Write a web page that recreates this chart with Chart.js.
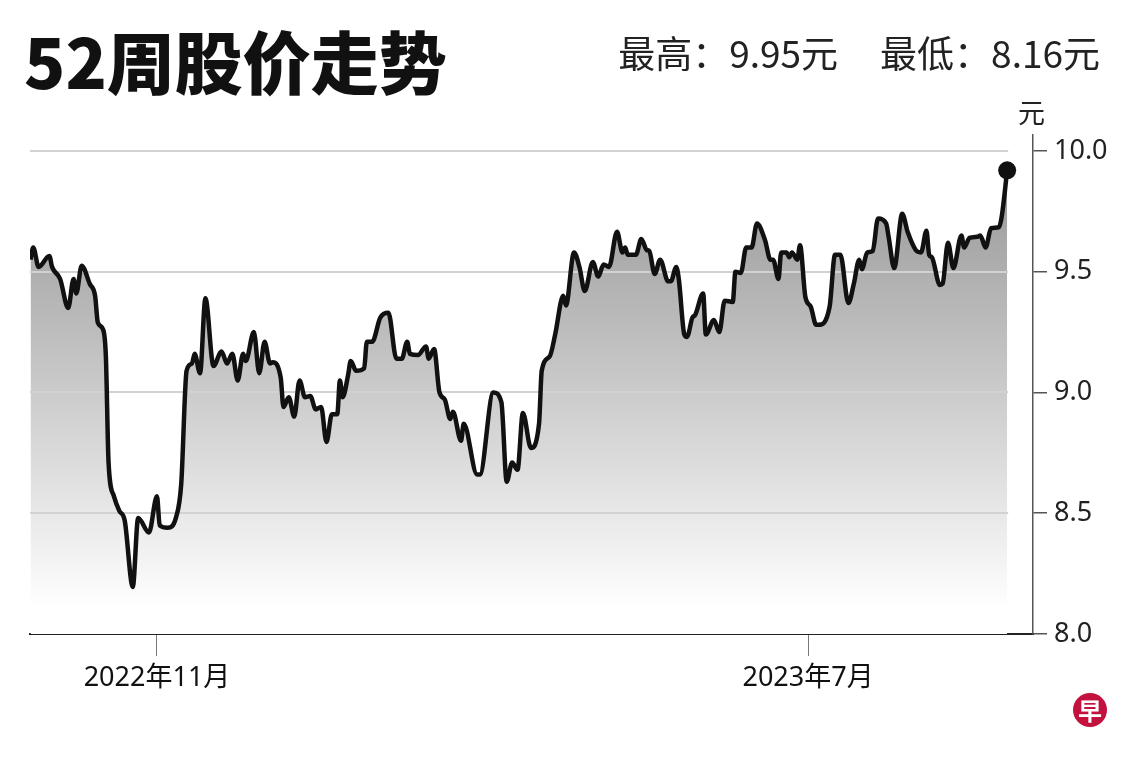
<!DOCTYPE html>
<html>
<head>
<meta charset="utf-8">
<script src="https://cdn.jsdelivr.net/npm/chart.js@4"></script>
<style>
  body { margin: 0; background: #fff; }
  #wrap { position: relative; width: 1140px; height: 760px; overflow: hidden; }
  #chart { position: absolute; left: 0; top: 0; }
  .title {
    position: absolute; left: 24px; top: 10px; line-height: 70px;
    font: 900 68px 'Noto Sans CJK SC', sans-serif; color: #111;
  }
  .hilo {
    position: absolute; right: 40px; top: 25px; line-height: 38px;
    font: 400 37px 'Noto Sans CJK SC', sans-serif; color: #222; white-space: nowrap;
  }
  .hilo span + span { margin-left: 42px; }
  .unit {
    position: absolute; left: 1018px; top: 92px; line-height: 28px;
    font: 400 27px 'Noto Sans CJK SC', sans-serif; color: #222;
  }
  .logo {
    position: absolute; left: 1073px; top: 693px; width: 34px; height: 34px;
    border-radius: 50%; background: #c4123f; color: #fff; text-align: center;
    font: 700 24px/34px 'Noto Sans CJK SC', sans-serif;
  }
</style>
</head>
<body>
<div id="wrap">
  <canvas id="chart" width="1140" height="760"></canvas>
  <div class="title">52周股价走势</div>
  <div class="hilo"><span>最高：9.95元</span><span>最低：8.16元</span></div>
  <div class="unit">元</div>
  <div class="logo">早</div>
</div>
<script>
// days counted from 2022-09-15
const tradeDays = [
  0, 1, 3, 7, 8, 11, 14, 16, 17, 19, 22, 24, 25, 27, 28, 29, 31, 33, 35, 38,
  40, 44, 47, 48, 51, 54, 56, 58, 60, 61, 63, 65, 68, 71, 73, 75, 77, 79, 80, 83,
  85, 87, 89, 90, 93, 94, 96, 98, 100, 102, 104, 106, 108, 110, 112, 114, 115, 116, 118, 119,
  121, 124, 125, 127, 130, 133, 136, 138, 140, 141, 144, 147, 148, 150, 152, 154, 156, 157, 160, 161,
  166, 167, 172, 175, 177, 179, 181, 183, 186, 189, 190, 193, 195, 198, 199, 202, 204, 206, 209, 211,
  213, 215, 218, 220, 221, 222, 225, 227, 229, 230, 232, 234, 237, 238, 240, 241, 243, 244, 246, 247,
  250, 251, 254, 256, 258, 261, 262, 264, 266, 268, 270, 273, 275, 276, 278, 279, 281, 282, 283, 285,
  286, 288, 290, 292, 293, 297, 299, 301, 304, 306, 308, 309, 311, 313, 315, 318, 319, 321, 324, 326,
  329, 331, 333, 334, 335, 338, 339, 341, 343, 346, 347, 349, 352, 353, 355, 357, 360, 361, 363
];
const prices = [
  9.55, 9.60, 9.52, 9.565, 9.52, 9.47, 9.35, 9.47, 9.41, 9.525, 9.45, 9.40, 9.29, 9.26, 9.15, 8.71, 8.57, 8.51, 8.47, 8.195,
  8.48, 8.42, 8.57, 8.45, 8.44, 8.48, 8.62, 9.09, 9.12, 9.16, 9.08, 9.39, 9.11, 9.17, 9.12, 9.16, 9.05, 9.16, 9.13, 9.25,
  9.08, 9.21, 9.12, 9.125, 9.06, 8.94, 8.98, 8.90, 9.05, 8.98, 8.985, 8.93, 8.94, 8.795, 8.91, 8.91, 9.05, 8.98, 9.07, 9.13,
  9.09, 9.10, 9.21, 9.21, 9.31, 9.33, 9.14, 9.14, 9.21, 9.16, 9.155, 9.19, 9.14, 9.18, 9.00, 8.97, 8.89, 8.92, 8.80, 8.87,
  8.66, 8.66, 9.00, 8.96, 8.63, 8.71, 8.68, 8.915, 8.77, 8.87, 9.09, 9.15, 9.24, 9.40, 9.36, 9.58, 9.52, 9.42, 9.54, 9.48,
  9.53, 9.52, 9.665, 9.58, 9.60, 9.57, 9.57, 9.635, 9.59, 9.585, 9.49, 9.55, 9.46, 9.46, 9.52, 9.465, 9.24, 9.23, 9.31, 9.32,
  9.41, 9.24, 9.30, 9.25, 9.38, 9.375, 9.50, 9.495, 9.60, 9.60, 9.70, 9.63, 9.55, 9.55, 9.47, 9.58, 9.58, 9.56, 9.58, 9.55,
  9.61, 9.395, 9.355, 9.28, 9.28, 9.355, 9.57, 9.57, 9.37, 9.45, 9.55, 9.51, 9.58, 9.585, 9.72, 9.70, 9.64, 9.515, 9.74, 9.665,
  9.59, 9.58, 9.67, 9.57, 9.56, 9.445, 9.45, 9.62, 9.515, 9.65, 9.60, 9.64, 9.645, 9.65, 9.60, 9.68, 9.685, 9.73, 9.92
];
const xTickDays = [47, 289];
const xTickLabels = ['2022年11月', '2023年7月'];
const yTicks = [8.0, 8.5, 9.0, 9.5, 10.0];

const points = tradeDays.map((d, i) => ({ x: d, y: prices[i] }));
const lastIdx = points.length - 1;

// horizontal grid lines, drawn over the grey area but under the black line
const gridPlugin = {
  id: 'gridUnderLine',
  afterDatasetDraw(chart, args) {
    if (chart.data.datasets[args.index].id !== 'area') return;
    const ctx = chart.ctx;
    const xs = chart.scales.x, ys = chart.scales.y;
    const endX = xs.getPixelForValue(tradeDays[lastIdx]) + 1;
    ctx.save();
    ctx.strokeStyle = '#d2d2d2';
    ctx.lineWidth = 2;
    yTicks.forEach(v => {
      if (v === yTicks[0]) return;
      const y = Math.round(ys.getPixelForValue(v));
      ctx.beginPath();
      ctx.moveTo(chart.chartArea.left, y);
      ctx.lineTo(endX, y);
      ctx.stroke();
    });
    ctx.restore();
  }
};

function areaFill(context) {
  const chart = context.chart;
  const area = chart.chartArea;
  if (!area) return '#ccc';
  const ys = chart.scales.y;
  const g = chart.ctx.createLinearGradient(0, ys.getPixelForValue(10.0), 0, ys.getPixelForValue(8.1));
  g.addColorStop(0, '#939393');
  g.addColorStop(0.45, '#c3c3c3');
  g.addColorStop(1, '#ffffff');
  return g;
}

new Chart(document.getElementById('chart'), {
  type: 'line',
  data: {
    datasets: [
      {
        data: points,
        borderColor: '#111',
        borderWidth: 4.5,
        fill: false,
        cubicInterpolationMode: 'monotone',
        pointRadius: c => (c.dataIndex === lastIdx ? 9 : 0),
        pointBackgroundColor: '#111',
        pointBorderWidth: 0,
        order: 1
      },
      {
        id: 'area',
        data: points,
        borderWidth: 0,
        borderColor: 'rgba(0,0,0,0)',
        backgroundColor: areaFill,
        fill: 'start',
        cubicInterpolationMode: 'monotone',
        pointRadius: 0,
        order: 2
      }
    ]
  },
  options: {
    responsive: false,
    animation: false,
    layout: { padding: { left: 30, right: 0, top: 135, bottom: 0 } },
    plugins: { legend: { display: false }, tooltip: { enabled: false } },
    scales: {
      x: {
        type: 'linear',
        min: -0.2,
        max: 372.6,
        afterBuildTicks: s => { s.ticks = xTickDays.map(v => ({ value: v })); },
        afterFit: s => { s.height = 126; },
        ticks: {
          autoSkip: false,
          maxRotation: 0,
          padding: 6,
          color: '#111',
          font: { family: "'Noto Sans', 'Noto Sans CJK SC', sans-serif", size: 27 },
          callback: v => xTickLabels[xTickDays.indexOf(v)]
        },
        grid: { drawOnChartArea: false, drawTicks: true, tickLength: 22, color: '#777', lineWidth: 1 },
        border: { display: true, color: '#222', width: 2 }
      },
      y: {
        position: 'right',
        min: 8.0,
        max: 10.066,
        afterBuildTicks: s => { s.ticks = yTicks.map(v => ({ value: v })); },
        afterFit: s => { s.width = 107; },
        ticks: {
          padding: 7,
          color: '#222',
          font: { family: "'Noto Sans', sans-serif", size: 27 },
          callback: v => Number(v).toFixed(1)
        },
        grid: { drawOnChartArea: false, drawTicks: true, tickLength: 14, color: '#555', lineWidth: 1.5 },
        border: { display: true, color: '#555', width: 1.5 }
      }
    }
  },
  plugins: [gridPlugin]
});
</script>
</body>
</html>
